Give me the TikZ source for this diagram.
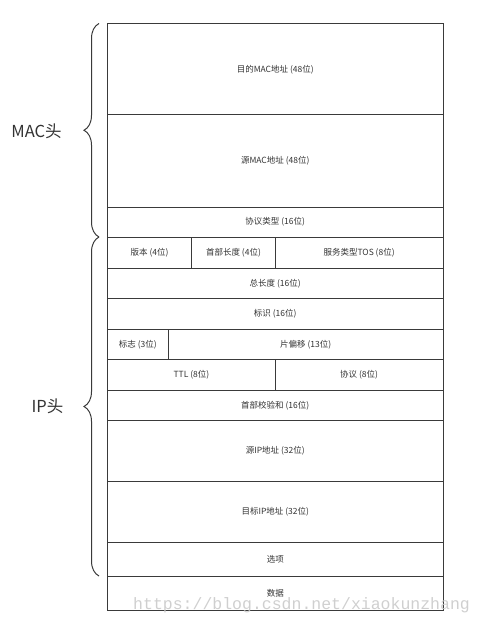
\documentclass[tikz,border=0pt]{standalone}
\usepackage{fontspec}
\setmainfont{Noto Sans CJK SC}
\newfontfamily\wmfont{Liberation Mono}
\usetikzlibrary{decorations.pathreplacing}
\definecolor{ln}{HTML}{3A3A3A}
\definecolor{tx}{HTML}{333333}
\tikzset{
  cell/.style={draw=ln, line width=1pt, anchor=north west, inner sep=0pt, outer sep=0pt,
    text=tx, font=\fontsize{8.5}{10}\selectfont},
  bigl/.style={text=tx, font=\fontsize{16.5}{18}\selectfont},
  br/.style={draw=ln, line width=1pt, decorate, decoration={brace, amplitude=15pt}},
}
\newcommand{\cellat}[6]{% name, x1, y1, x2, y2, text
  \node[cell, minimum width={(#4-#2)*1pt}, minimum height={(#5-#3)*1pt}] (#1) at (#2,#3) {#6};}
\begin{document}
\begin{tikzpicture}[x=1pt,y=-1pt]
\useasboundingbox (0,0) rectangle (483,623);
\cellat{dmac}{107.5}{23.5}{443}{115}{目的MAC地址 (48位)}
\cellat{smac}{107.5}{115}{443}{207}{源MAC地址 (48位)}
\cellat{ptype}{107.5}{207}{443}{237}{协议类型 (16位)}
\cellat{ver}{107.5}{237}{191.7}{268}{版本 (4位)}
\cellat{hlen}{191.7}{237}{275.3}{268}{首部长度 (4位)}
\cellat{tos}{275.3}{237}{443}{268}{服务类型TOS (8位)}
\cellat{tlen}{107.5}{268}{443}{298.5}{总长度 (16位)}
\cellat{ident}{107.5}{298.5}{443}{329}{标识 (16位)}
\cellat{flag}{107.5}{329}{168.3}{359.5}{标志 (3位)}
\cellat{frag}{168.3}{329}{443}{359.5}{片偏移 (13位)}
\cellat{ttl}{107.5}{359.5}{275.3}{390}{TTL (8位)}
\cellat{proto}{275.3}{359.5}{443}{390}{协议 (8位)}
\cellat{csum}{107.5}{390}{443}{420.5}{首部校验和 (16位)}
\cellat{sip}{107.5}{420.5}{443}{481}{源IP地址 (32位)}
\cellat{dip}{107.5}{481}{443}{542}{目标IP地址 (32位)}
\cellat{opt}{107.5}{542}{443}{576}{选项}
\cellat{data}{107.5}{576}{443}{610}{数据}
\coordinate (m1) at (99,237);
\coordinate (m2) at (99,23.5);
\coordinate (i1) at (99,576);
\coordinate (i2) at (99,237);
\draw[br] (m1) -- (m2);
\draw[br] (i1) -- (i2);
\node[bigl] (maclab) at (36.5,131) {MAC头};
\node[bigl] (iplab) at (47.5,406) {IP头};
\node[anchor=base west, inner sep=0pt, text=black!22, opacity=0.85,
  font=\wmfont\fontsize{16.5}{18}\selectfont] (wm) at (133,609) {https://blog.csdn.net/xiaokunzhang};
\end{tikzpicture}
\end{document}
